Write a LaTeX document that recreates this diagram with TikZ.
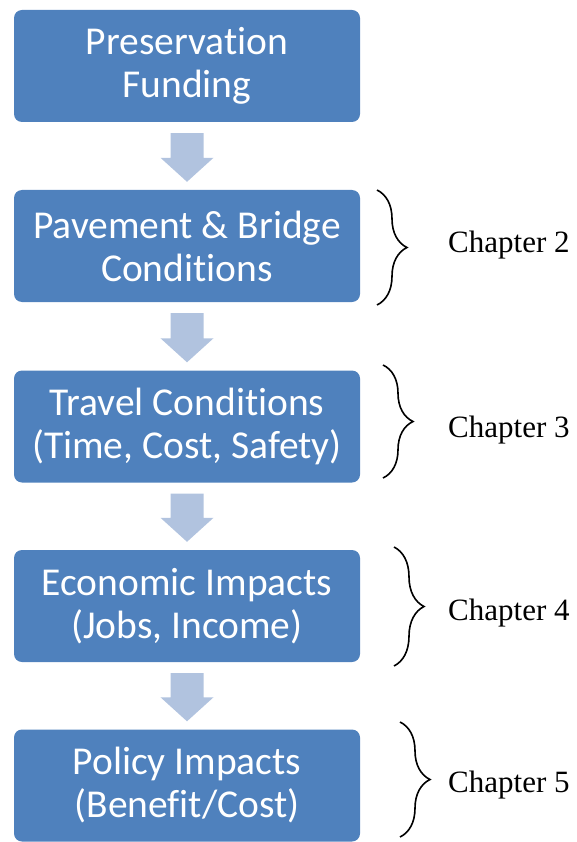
\documentclass[tikz,border=0pt]{standalone}
\usepackage{fontspec}
\setmainfont{Liberation Serif}
\newfontfamily\boxfont[Ligatures={NoCommon}]{Carlito}
\usetikzlibrary{calc,decorations.pathreplacing}
\definecolor{boxblue}{HTML}{4F81BD}
\definecolor{flowarrow}{HTML}{B1C3DF}
\begin{document}
\begin{tikzpicture}[x=1pt,y=-1pt,
  stage/.style={fill=boxblue, rounded corners=8pt, minimum width=346pt,
    minimum height=112pt, inner sep=0pt, text=white, align=center,
    font=\boxfont\fontsize{39.5}{43}\selectfont},
  chapter/.style={anchor=base west, inner sep=0pt,
    font=\fontsize{31}{36}\selectfont},
  chbrace/.style={decorate, decoration={brace, amplitude=30pt},
    line width=1.6pt},
  flow/.style={fill=flowarrow},
]
\useasboundingbox (0,0) rectangle (576,842);

% stages of the chain
\node[stage] (b1) at (187,66)    {Preservation\\Funding};
\node[stage] (b2) at (187,246)   {Pavement \& Bridge\\Conditions};
\node[stage] (b3) at (187,426.5) {Travel Conditions\\(Time, Cost, Safety)};
\node[stage] (b4) at (187,606)   {Economic Impacts\\(Jobs, Income)};
\node[stage] (b5) at (187,785.5) {Policy Impacts\\(Benefit/Cost)};

% block arrows between consecutive stages
\foreach \a/\b in {b1/b2,b2/b3,b3/b4,b4/b5}{
  \coordinate (top) at ($(\a.south)+(0,11)$);
  \coordinate (tip) at ($(\b.north)+(0,-8)$);
  \coordinate (hb)  at ($(tip)+(0,-24)$);
  \fill[flow] ($(top)+(-16.5,0)$) -- ($(top)+(16.5,0)$)
    -- ($(hb)+(16.5,0)$) -- ($(hb)+(26.5,0)$) -- (tip)
    -- ($(hb)+(-26.5,0)$) -- ($(hb)+(-16.5,0)$) -- cycle;
}

% chapter braces
\coordinate (c2t) at (377,190); \coordinate (c2b) at (377,305);
\coordinate (c3t) at (383,365); \coordinate (c3b) at (383,478);
\coordinate (c4t) at (394,547); \coordinate (c4b) at (394,666);
\coordinate (c5t) at (400,722); \coordinate (c5b) at (400,837);
\draw[chbrace] (c2t) -- (c2b);
\draw[chbrace] (c3t) -- (c3b);
\draw[chbrace] (c4t) -- (c4b);
\draw[chbrace] (c5t) -- (c5b);

% chapter labels
\node[chapter] (ch2) at (448,252) {Chapter 2};
\node[chapter] (ch3) at (448,437) {Chapter 3};
\node[chapter] (ch4) at (448,620) {Chapter 4};
\node[chapter] (ch5) at (448,792) {Chapter 5};
\end{tikzpicture}
\end{document}
